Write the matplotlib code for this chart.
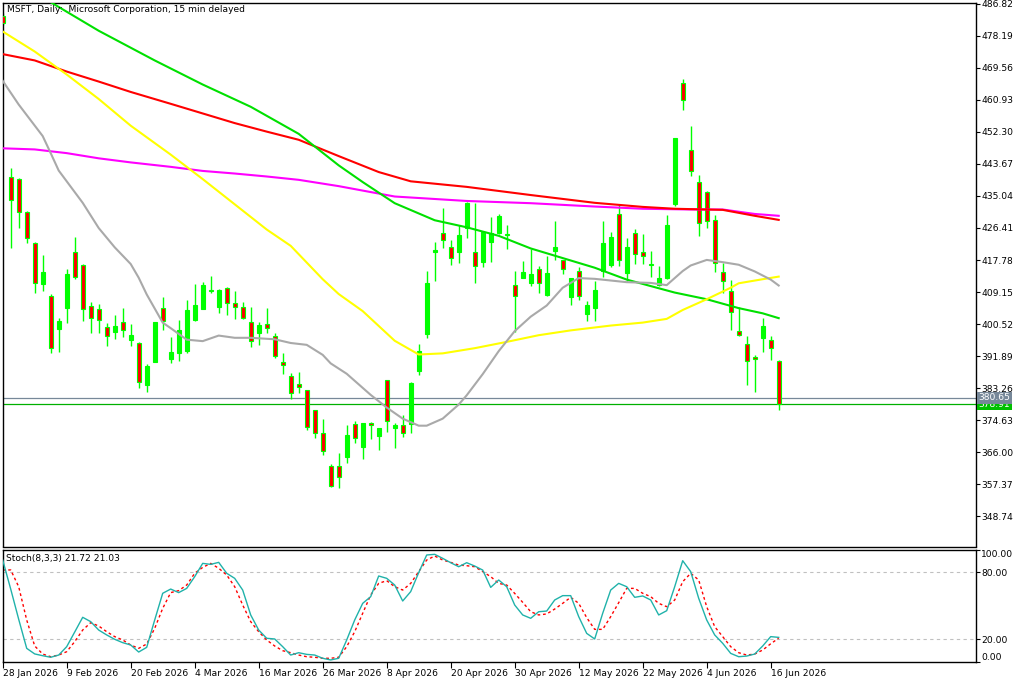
import matplotlib
matplotlib.use("Agg")
import matplotlib.pyplot as plt
import matplotlib.transforms as mtransforms
from matplotlib.patches import Rectangle

# ---- data ----
opens = [483.6, 440.25, 439.62, 430.6, 422.29, 411.23, 407.99, 399.17, 404.92, 419.86,
         416.35, 405.29, 404.48, 399.63, 398.44, 400.98, 396.29, 395.32, 384.15, 390.35,
         404.84, 391.16, 392.78, 393.16, 401.52, 404.65, 409.45, 405.1, 410.23, 406.1,
         405.1, 400.98, 398.09, 400.44, 397.28, 390.27, 386.58, 384.34, 382.64, 377.25,
         371.04, 362.14, 362.14, 364.73, 373.47, 367.43, 373.74, 370.39, 385.34, 372.55,
         373.2, 373.55, 387.84, 397.9, 420.07, 424.98, 421.37, 420.02, 426.49, 419.86,
         417.16, 422.55, 424.98, 424.6, 410.96, 413.01, 411.66, 415.43, 408.26, 420.29,
         417.7, 407.88, 414.73, 403.14, 404.75, 414.73, 416.35, 430.1, 414.19, 424.98,
         419.86, 416.3, 411.12, 412.93, 432.96, 465.43, 447.36, 438.73, 436.2, 428.49,
         414.46, 409.34, 398.55, 395.21, 391.54, 396.83, 396.21, 390.54]
highs = [484.3, 442.67, 439.9, 431.0, 422.5, 419.13, 408.53, 402.22, 415.35, 423.9,
         416.7, 406.37, 405.83, 400.71, 402.95, 404.92, 400.52, 395.67, 389.81, 401.1,
         407.8, 397.01, 401.52, 407.07, 411.23, 411.77, 413.38, 409.9, 410.58, 409.34,
         406.45, 405.1, 401.14, 404.92, 398.17, 392.7, 387.39, 387.66, 382.7, 377.3,
         374.82, 362.7, 365.73, 373.2, 374.36, 373.8, 374.17, 372.6, 385.4, 373.7,
         375.9, 384.8, 395.13, 414.81, 422.72, 431.88, 423.09, 427.22, 433.5, 433.07,
         425.5, 429.46, 430.27, 427.22, 414.89, 417.51, 420.75, 416.16, 418.86, 428.3,
         417.9, 413.0, 415.81, 406.72, 412.2, 428.38, 425.25, 432.88, 423.63, 426.06,
         424.79, 420.21, 416.08, 429.92, 450.7, 466.59, 454.0, 440.7, 436.3, 429.92,
         417.05, 412.39, 405.19, 397.36, 392.08, 402.14, 397.28, 390.89]
lows = [481.2, 421.1, 426.49, 422.45, 408.8, 409.5, 392.62, 393.05, 400.87, 412.74,
        401.25, 398.17, 398.17, 394.67, 396.56, 396.93, 394.67, 383.34, 382.1, 390.3,
        398.82, 390.08, 390.54, 392.78, 401.3, 404.5, 408.88, 403.57, 402.95, 401.79,
        401.79, 394.4, 394.94, 398.0, 391.27, 387.12, 380.21, 381.83, 371.93, 369.86,
        365.27, 356.56, 356.4, 363.11, 368.35, 364.11, 369.51, 366.54, 371.47, 367.16,
        370.13, 371.21, 386.69, 396.83, 412.2, 420.94, 416.43, 416.89, 423.71, 411.66,
        415.97, 417.32, 424.8, 420.67, 398.28, 412.9, 410.85, 408.96, 408.1, 417.78,
        414.09, 405.73, 406.99, 401.33, 401.33, 413.11, 415.81, 416.16, 412.2, 416.7,
        416.62, 413.28, 410.77, 412.66, 432.42, 458.31, 440.51, 424.33, 426.49, 414.62,
        408.8, 398.82, 397.4, 384.15, 382.26, 393.05, 390.81, 377.33]
closes = [481.8, 433.96, 430.64, 423.63, 411.5, 414.54, 393.97, 401.33, 413.92, 413.28,
          404.48, 402.06, 401.52, 397.2, 399.98, 398.82, 397.55, 384.8, 389.19, 401.06,
          401.25, 392.89, 398.82, 404.3, 405.56, 410.96, 409.75, 409.69, 406.1, 405.02,
          402.06, 395.85, 400.25, 399.52, 391.97, 389.38, 381.99, 383.45, 372.82, 371.21,
          366.19, 356.91, 359.18, 370.5, 369.69, 373.74, 373.2, 372.47, 374.44, 373.28,
          371.04, 384.61, 393.24, 411.58, 420.48, 423.09, 418.4, 424.44, 433.07, 416.08,
          425.33, 424.98, 429.73, 424.9, 407.99, 414.54, 413.92, 411.5, 414.19, 421.29,
          415.27, 412.85, 407.99, 405.56, 409.61, 422.29, 423.9, 417.78, 421.29, 419.4,
          418.78, 416.6, 412.93, 427.22, 450.68, 460.85, 441.78, 427.68, 428.22, 416.89,
          412.04, 403.68, 397.47, 390.54, 391.0, 399.9, 393.97, 378.91]

# moving averages: (bar index, value) knots
ma_gray_x = [0, 2, 5, 6, 7, 10, 12, 14, 16, 17, 18, 20, 21, 23, 25, 27, 29, 31, 34, 36, 38, 40,
             41, 43, 44, 46, 48, 50, 52, 53, 55, 57, 58, 60, 62, 64, 66, 68, 70, 72, 74, 78,
             81, 83, 85, 86, 88, 90, 92, 94, 96, 97]
ma_gray_y = [466.1, 459.7, 451.2, 446.6, 441.9, 433.2, 426.4, 421.2, 416.7, 413.0, 408.5, 400.9,
             399.4, 396.3, 395.9, 397.4, 396.8, 396.8, 396.4, 395.4, 394.9, 392.2, 389.9, 387.1,
             385.2, 381.4, 378.0, 375.0, 373.1, 373.1, 375.0, 378.8, 381.3, 387.0, 393.2, 398.6,
             402.5, 405.5, 410.3, 412.9, 412.7, 411.8, 411.6, 411.0, 414.8, 416.3, 417.8, 417.2,
             416.5, 414.7, 412.5, 410.9]
ma_yellow_x = [0, 4, 8, 12, 16, 21, 25, 29, 33, 36, 40, 42, 45, 49, 52, 55, 59, 63, 67, 71, 76,
               80, 83, 85, 88, 91, 92, 95, 97]
ma_yellow_y = [479.4, 474.0, 467.8, 461.2, 454.0, 446.2, 439.6, 432.8, 426.0, 421.6, 412.6, 408.6,
               404.0, 396.0, 392.3, 392.6, 394.0, 395.7, 397.5, 398.8, 400.1, 400.9, 401.9, 404.3,
               407.2, 410.3, 411.5, 412.6, 413.3]
ma_green_x = [0, 6, 12, 19, 25, 31, 37, 42, 45, 49, 54, 58, 62, 66, 70, 74, 78, 84, 88, 92, 95, 97]
ma_green_y = [494.5, 487.3, 479.6, 471.6, 465.1, 459.1, 451.8, 443.3, 438.8, 433.1, 428.5, 426.6,
              424.3, 420.9, 418.3, 415.7, 412.5, 409.0, 407.2, 404.8, 403.4, 402.1]
ma_red_x = [0, 4, 8, 12, 16, 21, 25, 29, 33, 37, 42, 47, 51, 58, 66, 74, 80, 84, 90, 92, 94, 97]
ma_red_y = [473.3, 471.6, 468.6, 465.9, 463.1, 459.9, 457.3, 454.7, 452.4, 450.2, 445.8, 441.5,
            439.0, 437.5, 435.3, 433.2, 432.1, 431.6, 431.3, 430.5, 429.7, 428.6]
ma_magenta_x = [0, 4, 8, 12, 16, 21, 25, 29, 33, 37, 42, 49, 58, 66, 74, 80, 86, 90, 92, 94, 97]
ma_magenta_y = [447.9, 447.6, 446.6, 445.2, 444.1, 442.9, 441.8, 441.1, 440.3, 439.4, 437.7, 434.9,
                433.7, 433.1, 432.2, 431.6, 431.4, 431.4, 430.8, 430.2, 429.7]

stoch_k = [91.0, 65.0, 37.9, 11.9, 6.9, 5.3, 3.9, 5.9, 13.4, 26.5,
           39.7, 35.8, 28.3, 23.9, 20.0, 17.0, 14.9, 8.6, 12.8, 37.3,
           61.2, 65.0, 61.8, 65.6, 76.1, 88.0, 87.1, 88.9, 79.1, 74.6,
           64.1, 41.8, 28.3, 20.9, 20.3, 13.4, 5.9, 8.0, 6.5, 5.9,
           3.0, 1.5, 3.0, 19.4, 37.3, 52.2, 58.2, 76.7, 74.6, 68.6,
           54.3, 62.7, 79.7, 95.5, 96.1, 92.5, 88.6, 85.0, 88.6, 85.6,
           82.0, 66.5, 73.1, 67.1, 50.7, 41.8, 38.8, 44.7, 45.3, 55.2,
           59.1, 59.1, 40.3, 25.3, 20.3, 43.3, 64.1, 70.1, 67.1, 57.6,
           58.8, 55.2, 41.8, 45.6, 67.1, 90.4, 80.6, 56.7, 37.3, 23.9,
           16.4, 7.4, 4.4, 5.0, 6.8, 14.0, 22.4, 21.72]
stoch_d = [82.1, 82.1, 67.1, 37.3, 14.0, 6.8, 4.4, 5.9, 8.9, 17.9,
           28.3, 34.9, 31.9, 26.8, 22.4, 19.4, 14.9, 11.9, 15.8, 29.8,
           47.7, 61.8, 63.6, 68.6, 79.1, 84.4, 88.0, 83.6, 77.6, 67.1,
           50.7, 35.8, 26.8, 19.4, 14.0, 9.8, 8.0, 5.9, 4.4, 3.9,
           3.0, 3.0, 3.9, 13.4, 26.8, 43.3, 59.7, 70.1, 72.5, 67.1,
           64.1, 70.1, 80.6, 91.0, 94.6, 91.0, 88.9, 86.5, 85.9, 85.0,
           80.6, 76.1, 70.1, 68.6, 61.1, 53.1, 44.7, 41.8, 42.7, 47.1,
           52.2, 57.6, 52.2, 39.4, 28.9, 28.9, 40.3, 52.8, 65.6, 65.6,
           61.2, 58.2, 52.2, 49.2, 55.2, 71.6, 79.1, 73.1, 49.2, 31.3,
           22.4, 13.4, 8.0, 5.9, 6.8, 10.4, 16.0, 21.03]

price_ticks = [486.82, 478.19, 469.56, 460.93, 452.30, 443.67, 435.04, 426.41, 417.78,
               409.15, 400.52, 391.89, 383.26, 374.63, 366.00, 357.37, 348.74]
date_labels = ["28 Jan 2026", "9 Feb 2026", "20 Feb 2026", "4 Mar 2026", "16 Mar 2026",
               "26 Mar 2026", "8 Apr 2026", "20 Apr 2026", "30 Apr 2026", "12 May 2026",
               "22 May 2026", "4 Jun 2026", "16 Jun 2026"]
bid_price = 380.65
last_price = 378.91

BULL = "#00FF00"
BEAR = "#FF0000"
FS = 6.6

W, H = 1024, 683
fig = plt.figure(figsize=(W / 100, H / 100), dpi=100)
fig.patch.set_facecolor("white")


def px_axes(left, top, right, bottom):
    return fig.add_axes([left / W, 1 - bottom / H, (right - left) / W, (bottom - top) / H])


ax = px_axes(2.5, 2.5, 975.5, 546.5)
ax2 = px_axes(2.5, 549.5, 975.5, 661.7)

xlim = (-0.025, 121.6)
for a in (ax, ax2):
    a.set_xlim(*xlim)
    for s in a.spines.values():
        s.set_linewidth(1.0)
        s.set_color("black")

# ---- main price panel ----
ax.set_ylim(340.52, 487.22)
ax.yaxis.tick_right()
ax.set_yticks(price_ticks)
ax.set_yticklabels([f"{t:.2f}" for t in price_ticks])
ax.tick_params(axis="y", direction="out", length=3, width=0.8, pad=1, labelsize=FS)
ax.set_xticks([])

ax.axhline(bid_price, color="#778899", lw=0.9, zorder=1)
ax.axhline(last_price, color="#00B000", lw=0.9, zorder=1)

bw = 0.55
for i, (o, h, l, c) in enumerate(zip(opens, highs, lows, closes)):
    ax.vlines(i, l, h, color=BULL, lw=1.0, zorder=2)
    face = BULL if c >= o else BEAR
    ax.add_patch(Rectangle((i - bw / 2, min(o, c)), bw, max(abs(c - o), 0.05),
                           facecolor=face, edgecolor=BULL, lw=0.8, zorder=3))

ax.plot(ma_magenta_x, ma_magenta_y, color="#FF00FF", lw=1.5, zorder=4)
ax.plot(ma_red_x, ma_red_y, color="#FF0000", lw=1.5, zorder=4)
ax.plot(ma_green_x, ma_green_y, color="#00E000", lw=1.5, zorder=4)
ax.plot(ma_yellow_x, ma_yellow_y, color="#FFFF00", lw=1.5, zorder=4)
ax.plot(ma_gray_x, ma_gray_y, color="#A9A9A9", lw=1.5, zorder=4)

trans = mtransforms.blended_transform_factory(ax.transAxes, ax.transData)
ax.text(1.0034, last_price, f"{last_price:.2f}", transform=trans, ha="left", va="center",
        color="white", fontsize=FS, clip_on=False, zorder=10,
        bbox=dict(boxstyle="square,pad=0.15", fc="#00C000", ec="none"))
ax.text(1.0034, bid_price, f"{bid_price:.2f}", transform=trans, ha="left", va="center",
        color="white", fontsize=FS, clip_on=False, zorder=11,
        bbox=dict(boxstyle="square,pad=0.15", fc="#778899", ec="none"))

fig.text(7 / W, 1 - 9.7 / H, "MSFT, Daily:  Microsoft Corporation, 15 min delayed",
         fontsize=FS, ha="left", va="center", color="black")

# ---- stochastic panel ----
bars = list(range(len(stoch_k)))
ax2.set_ylim(-0.06, 100.42)
ax2.axhline(80, color="#C0C0C0", lw=0.8, ls=(0, (3, 3)), zorder=1)
ax2.axhline(20, color="#C0C0C0", lw=0.8, ls=(0, (3, 3)), zorder=1)
ax2.plot(bars, stoch_d, color="#FF0000", lw=1.0, ls=(0, (2, 2)), zorder=2)
ax2.plot(bars, stoch_k, color="#20B2AA", lw=1.0, zorder=3)

ax2.yaxis.tick_right()
ax2.set_yticks([0, 20, 80, 100])
ax2.set_yticklabels(["0.00", "20.00", "80.00", "100.00"])
ax2.tick_params(axis="y", direction="out", length=3, width=0.8, pad=1, labelsize=FS)
ylabs = ax2.get_yticklabels()
ylabs[0].set_va("bottom")
ylabs[3].set_va("top")

ax2.set_xticks(list(range(0, 8 * len(date_labels), 8)))
ax2.set_xticklabels(date_labels)
ax2.tick_params(axis="x", direction="out", length=4, width=0.8, pad=1, labelsize=FS)
for lab in ax2.get_xticklabels():
    lab.set_ha("left")

fig.text(6 / W, 1 - 558 / H, f"Stoch(8,3,3) {stoch_k[-1]:.2f} {stoch_d[-1]:.2f}",
         fontsize=FS, ha="left", va="center", color="black")

fig.savefig("out.png", dpi=100, facecolor="white")
